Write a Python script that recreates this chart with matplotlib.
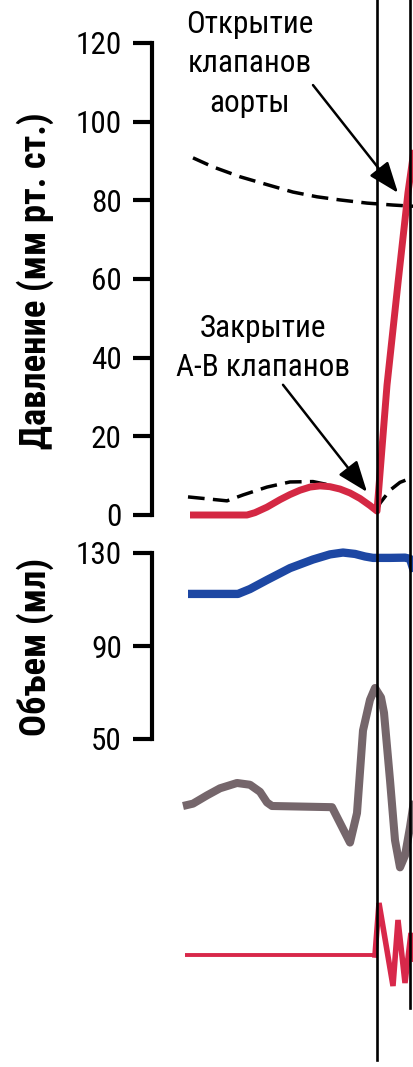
import matplotlib
matplotlib.use("Agg")
import matplotlib.pyplot as plt
from matplotlib import font_manager

# ---------------------------------------------------------------------------
# Data (time in ms from the start of the traces)
# ---------------------------------------------------------------------------
# Left ventricular pressure, mm Hg
t_lv = [0, 57, 65, 77, 90, 100, 110, 120, 130, 140, 150, 160, 170, 180, 185, 187,
        197, 208, 218, 228]
lv_pressure = [0, 0, 0.6, 2.0, 3.9, 5.2, 6.3, 7.1, 7.4, 7.2, 6.6, 5.6, 4.2, 2.4, 1.4, 1.0,
               33, 59, 82, 100]

# Aortic pressure, mm Hg
t_aorta = [3, 23, 50, 77, 103, 127, 150, 177, 203, 223]
aortic_pressure = [90.8, 88.5, 86.0, 84.0, 82.1, 80.9, 80.1, 79.3, 78.8, 78.5]

# Atrial pressure, mm Hg
t_atrium = [-2, 37, 53, 77, 100, 123, 140, 150, 160, 170, 180, 187, 190, 200, 210, 223]
atrial_pressure = [4.6, 3.6, 5.1, 7.1, 8.4, 8.5, 7.6, 6.7, 5.6, 4.2, 2.4, 1.2, 3.0, 6.3, 8.3, 9.6]

# Ventricular volume, ml
t_volume = [-2, 48, 60, 77, 100, 123, 140, 153, 165, 175, 183, 200, 215, 220, 224, 230]
ventricular_volume = [112.4, 112.4, 114.5, 118.4, 123.5, 127.2, 129.4, 130.2, 129.6, 128.5,
                      127.9, 127.9, 128.0, 127.5, 122, 105]

# Electrocardiogram, mV
t_ecg = [-7, 3, 17, 30, 47, 60, 70, 77, 82, 142, 160, 167, 173, 180, 185, 191, 194,
         200, 205, 210, 215, 220, 225]
ecg_mv = [0.0, 0.02, 0.09, 0.15, 0.195, 0.18, 0.12, 0.03, 0.0, -0.01, -0.31, -0.06,
          0.64, 0.9, 1.0, 0.92, 0.79, 0.22, -0.29, -0.52, -0.42, -0.18, 0.1]

# Phonocardiogram, arbitrary units
t_phono = [-5, 185, 189, 203, 208, 215, 221, 227]
phono = [0, 0, 1.04, -0.62, 0.7, -0.56, 0.44, -0.6]

# Valve events, ms
AV_CLOSE_T = 187
AORTIC_OPEN_T = 220

pressure_ticks = [0, 20, 40, 60, 80, 100, 120]
volume_ticks = [50, 90, 130]

# ---------------------------------------------------------------------------
# Fonts: prefer a condensed sans face when one is installed
# ---------------------------------------------------------------------------
SANS = "Liberation Sans"


def condensed_face():
    entries = font_manager.fontManager.ttflist
    families = {f.name for f in entries}
    for name in ("Liberation Sans Narrow", "Roboto Condensed", "Noto Sans Condensed",
                 "Open Sans Condensed", "DejaVu Sans Condensed", "Arial Narrow"):
        if name in families:
            return {"family": name, "stretch": "normal"}
    for f in entries:
        if f.name in ("Liberation Sans", "Roboto", "Noto Sans", "DejaVu Sans", "Open Sans") \
                and str(f.stretch) in ("condensed", "semi-condensed"):
            return {"family": f.name, "stretch": f.stretch}
    for name in sorted(families):
        if ("Condensed" in name or "Narrow" in name) and "Mono" not in name \
                and "Serif" not in name:
            return {"family": name, "stretch": "normal"}
    return None


COND = condensed_face()
if COND is None:
    TICK_FONT = {"family": SANS}
    TICK_SIZE = 21
    TITLE_FONT = {"family": SANS}
    TITLE_SIZE = 22.5
    NOTE_FONT = {"family": SANS}
    NOTE_SIZE = 21
else:
    TICK_FONT = dict(COND)
    TICK_SIZE = 22.5
    TITLE_FONT = dict(COND)
    TITLE_SIZE = 26.4
    NOTE_FONT = dict(COND)
    NOTE_SIZE = 22.5

RED = "#d42843"
BLUE = "#1d47a3"
GREY = "#75666b"
PHONO_RED = "#d8284a"

W, H = 413, 1067
fig = plt.figure(figsize=(W / 100, H / 100), dpi=100)

X_LEFT, X_RIGHT = 152, 413      # horizontal extent of the plotting band
T0_PX = 190                     # where t = 0 sits
XLIM = (X_LEFT - T0_PX, X_RIGHT - T0_PX)


def band_axes(zero_px, px_per_unit, lo, hi):
    top = zero_px - hi * px_per_unit
    bottom = zero_px - lo * px_per_unit
    ax = fig.add_axes([X_LEFT / W, 1 - bottom / H, (X_RIGHT - X_LEFT) / W, (bottom - top) / H])
    ax.set_xlim(*XLIM)
    ax.set_ylim(lo, hi)
    ax.patch.set_visible(False)
    for side in ("top", "right", "bottom"):
        ax.spines[side].set_visible(False)
    ax.set_xticks([])
    return ax


def style_left_axis(ax, ticks):
    sp = ax.spines["left"]
    sp.set_bounds(ticks[0], ticks[-1])
    sp.set_linewidth(3)
    sp.set_capstyle("projecting")
    ax.set_yticks(ticks)
    ax.set_yticklabels([str(v) for v in ticks])
    ax.tick_params(axis="y", direction="out", length=13.7, width=3, pad=8,
                   labelsize=TICK_SIZE)
    for lbl in ax.get_yticklabels():
        lbl.set_fontfamily(TICK_FONT["family"])
        if "stretch" in TICK_FONT:
            lbl.set_fontstretch(TICK_FONT["stretch"])


# Pressure panel
ax_p = band_axes(515, 472 / 120, -6, 130)
style_left_axis(ax_p, pressure_ticks)
dash = (4.8, 2.4)
ax_p.plot(t_aorta, aortic_pressure, color="black", lw=2.5, dashes=dash, zorder=2)
ax_p.plot(t_atrium, atrial_pressure, color="black", lw=2.5, dashes=dash, zorder=2)
ax_p.plot(t_lv, lv_pressure, color=RED, lw=5, solid_joinstyle="round",
          solid_capstyle="butt", zorder=3)

arrow = dict(arrowstyle="-|>,head_length=0.95,head_width=0.36", color="black", lw=1.8,
             mutation_scale=20, shrinkA=0, shrinkB=0)
ax_p.annotate("", xy=(208, 81.9), xytext=(123, 109.3), arrowprops=arrow,
              annotation_clip=False, zorder=5)
ax_p.annotate("", xy=(177, 5.85), xytext=(93, 33.1), arrowprops=arrow,
              annotation_clip=False, zorder=5)
ax_p.text(60, 128.4, "Открытие\nклапанов\nаорты", ha="center", va="top",
          fontsize=NOTE_SIZE, linespacing=1.45, multialignment="center", **NOTE_FONT)
ax_p.text(73, 51.2, "Закрытие\nА-В клапанов", ha="center", va="top",
          fontsize=NOTE_SIZE, linespacing=1.45, multialignment="center", **NOTE_FONT)

# Volume panel
ax_v = band_axes(553 + 130 * 186 / 80, 186 / 80, 45, 135)
style_left_axis(ax_v, volume_ticks)
ax_v.plot(t_volume, ventricular_volume, color=BLUE, lw=6, solid_joinstyle="round",
          solid_capstyle="butt")

# ECG trace
ax_e = band_axes(806, 118, -0.8, 1.4)
ax_e.axis("off")
ax_e.plot(t_ecg, ecg_mv, color=GREY, lw=5.8, solid_joinstyle="round", solid_capstyle="butt")

# Phonocardiogram trace
ax_s = band_axes(955, 50, -1.4, 1.4)
ax_s.axis("off")
ax_s.plot(t_phono[:2], phono[:2], color=PHONO_RED, lw=2.8, solid_capstyle="butt")
ax_s.plot(t_phono[1:], phono[1:], color=PHONO_RED, lw=4, solid_joinstyle="miter")

# Event markers spanning all panels
ax_o = fig.add_axes([X_LEFT / W, 0, (X_RIGHT - X_LEFT) / W, 1])
ax_o.set_xlim(*XLIM)
ax_o.set_ylim(0, 1)
ax_o.axis("off")
ax_o.axvline(AV_CLOSE_T, ymin=1 - 1060 / H, ymax=1, color="black", lw=1.9)
ax_o.axvline(AORTIC_OPEN_T, ymin=1 - 1008 / H, ymax=1, color="black", lw=1.9)

# Axis titles
for label, y_px in (("Давление (мм рт. ст.)", 281), ("Объем (мл)", 647)):
    fig.text(35 / W, 1 - y_px / H, label, rotation=90, ha="center", va="center",
             fontsize=TITLE_SIZE, weight="bold", **TITLE_FONT)

fig.savefig("out.png", dpi=100)
